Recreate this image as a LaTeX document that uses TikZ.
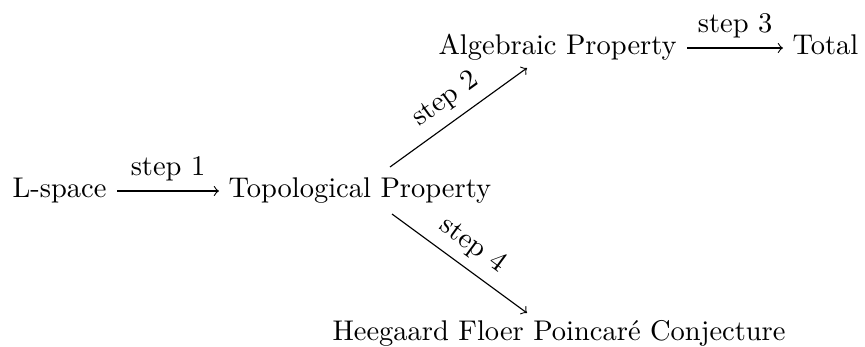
\documentclass[tikz,border=0pt]{standalone}
\usepackage{fontspec}
\usetikzlibrary{calc}
\begin{document}
\begin{tikzpicture}[x=0.351pt,y=-0.351pt,
  txt/.style={anchor=base west,inner sep=0pt},
  arr/.style={->,line width=0.4pt},
  lbl/.style={font=\normalsize}]
\useasboundingbox (0,0) rectangle (865,347);
\node[txt] (lspace) at (12,198) {L-space};
\node[txt] (topo) at (228,198) {Topological Property};
\node[txt] (alg) at (438,55) {Algebraic Property};
\node[txt] (total) at (792,55) {Total};
\node[txt] (hfpc) at (332,340) {Heegaard Floer Poincaré Conjecture};
\draw[arr] ($(lspace.base east)+(10,-7)$) -- node[above,lbl] {step 1} ($(topo.base west)+(-9,-7)$);
\draw[arr] ($(alg.base east)+(10,-7)$) -- node[above,lbl] {step 3} ($(total.base west)+(-9,-7)$);
\draw[arr] ($(topo.base west)+(162,-31)$) -- node[above,sloped,lbl] {step 2} ($(alg.base west)+(89,13)$);
\draw[arr] ($(topo.base west)+(164,16)$) -- node[above,sloped,lbl] {step 4} ($(hfpc.base west)+(195,-27)$);
\end{tikzpicture}
\end{document}
